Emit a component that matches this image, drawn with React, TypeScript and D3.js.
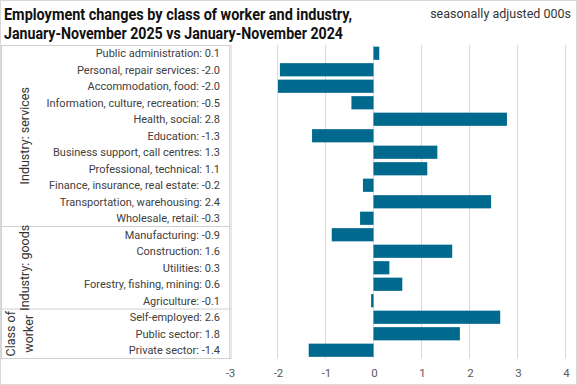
import React from "react";
import * as d3 from "d3";

const categories = [
  "Public administration",
  "Personal, repair services",
  "Accommodation, food",
  "Information, culture, recreation",
  "Health, social",
  "Education",
  "Business support, call centres",
  "Professional, technical",
  "Finance, insurance, real estate",
  "Transportation, warehousing",
  "Wholesale, retail",
  "Manufacturing",
  "Construction",
  "Utilities",
  "Forestry, fishing, mining",
  "Agriculture",
  "Self-employed",
  "Public sector",
  "Private sector",
];
const values = [0.12, -1.95, -1.99, -0.46, 2.78, -1.28, 1.33, 1.12, -0.22, 2.45, -0.28, -0.87, 1.64, 0.33, 0.6, -0.05, 2.64, 1.8, -1.35];
const valueLabels = ["0.1", "-2.0", "-2.0", "-0.5", "2.8", "-1.3", "1.3", "1.1", "-0.2", "2.4", "-0.3", "-0.9", "1.6", "0.3", "0.6", "-0.1", "2.6", "1.8", "-1.4"];
const groups = [
  { lines: ["Industry: services"], start: 0, end: 10 },
  { lines: ["Industry: goods"], start: 11, end: 15 },
  { lines: ["Class of", "worker"], start: 16, end: 18 },
];
const xTicks = [-3, -2, -1, 0, 1, 2, 3, 4];
const title1 = "Employment changes by class of worker and industry,";
const title2 = "January-November 2025 vs January-November 2024";
const subtitle = "seasonally adjusted 000s";

const W = 577;
const H = 385;
const BAR = "#006a8e";
const GRID = "#d9d9d9";
const LINE = "#d0d0d0";
const FONT = "'Roboto', 'Liberation Sans', sans-serif";

export default function App() {
  const x = d3.scaleLinear().domain([-3, 4]).range([229.5, 565.5]);
  const y = d3
    .scaleBand<number>()
    .domain(d3.range(categories.length))
    .range([45, 358.5])
    .paddingInner(0.2)
    .paddingOuter(0.1);
  const rowH = 313.5 / categories.length;
  const rowTop = (i: number) => 45 + i * rowH;

  return (
    <svg width={W} height={H} style={{ position: "absolute", left: 0, top: 0, fontFamily: FONT }}>
      <rect x={0} y={0} width={W} height={H} fill="#fff" />
      <rect x={0.5} y={0.5} width={W - 1} height={H - 1} fill="none" stroke={GRID} />
      <text x={4} y={20} fontSize={17} fontWeight="bold" fill="#111" textLength={348} lengthAdjust="spacingAndGlyphs">
        {title1}
      </text>
      <text x={4} y={38.5} fontSize={17} fontWeight="bold" fill="#111" textLength={339} lengthAdjust="spacingAndGlyphs">
        {title2}
      </text>
      <text x={571} y={18} fontSize={12.5} fill="#333" textAnchor="end">
        {subtitle}
      </text>

      {xTicks.map((t) => (
        <g key={t}>
          <line x1={x(t)} x2={x(t)} y1={45} y2={358.5} stroke={GRID} strokeWidth={1} />
          <text x={x(t) + 1} y={377} fontSize={11.5} fill="#595959" textAnchor="middle">
            {t}
          </text>
        </g>
      ))}

      <rect x={1.5} y={45.5} width={229.5} height={313} fill="none" stroke={LINE} />
      {groups.slice(1).map((g) => (
        <line key={g.start} x1={1.5} x2={231} y1={rowTop(g.start)} y2={rowTop(g.start)} stroke={LINE} />
      ))}
      {groups.map((g) => {
        const cy = (rowTop(g.start) + rowTop(g.end) + rowH) / 2;
        const n = g.lines.length;
        return g.lines.map((ln, k) => {
          const cx = n === 1 ? 25 : 11 + k * 18;
          return (
            <text
              key={ln}
              transform={`translate(${cx + 4},${cy}) rotate(-90)`}
              textAnchor="middle"
              fontSize={12.5}
              fill="#333"
            >
              {ln}
            </text>
          );
        });
      })}

      {categories.map((c, i) => (
        <text key={c} x={220} y={(y(i) as number) + y.bandwidth() / 2 + 4} fontSize={11} fill="#404040" textAnchor="end">
          {`${c}:  ${valueLabels[i]}`}
        </text>
      ))}

      {values.map((v, i) => (
        <rect
          key={i}
          x={Math.min(x(0), x(v))}
          y={y(i)}
          width={Math.abs(x(v) - x(0))}
          height={y.bandwidth()}
          fill={BAR}
        />
      ))}
    </svg>
  );
}
